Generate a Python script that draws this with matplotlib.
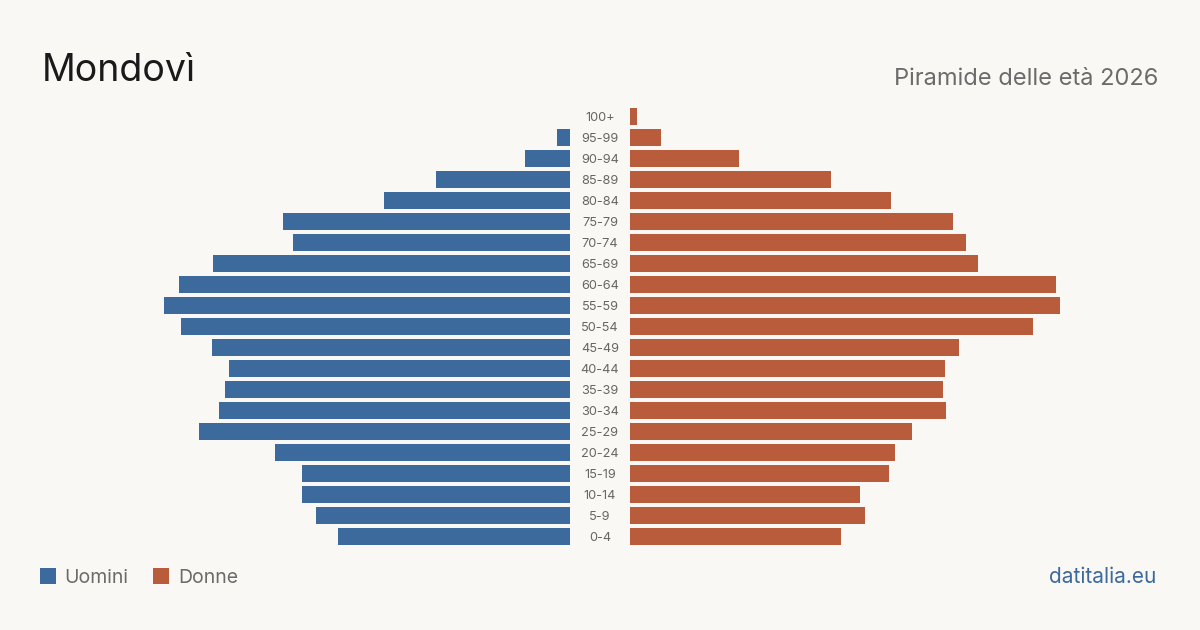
import matplotlib
matplotlib.use("Agg")
import matplotlib.pyplot as plt
from matplotlib.patches import Rectangle

plt.rcParams['font.family'] = ['Inter', 'DejaVu Sans']

age_groups = ["0-4", "5-9", "10-14", "15-19", "20-24", "25-29", "30-34", "35-39",
              "40-44", "45-49", "50-54", "55-59", "60-64", "65-69", "70-74",
              "75-79", "80-84", "85-89", "90-94", "95-99", "100+"]
men = [232, 254, 268, 268, 295, 371, 351, 345, 341, 358, 389, 406, 391, 357,
       277, 287, 186, 134, 45, 13, 0]
women = [211, 235, 230, 259, 265, 282, 316, 313, 315, 329, 403, 430, 426, 348,
         336, 323, 261, 201, 109, 31, 7]

title = "Mondovì"
subtitle = "Piramide delle età 2026"
legend_labels = ["Uomini", "Donne"]
source = "datitalia.eu"

BG = "#f9f8f4"
BLUE = "#3d6a9c"
ORANGE = "#b95c3b"

W, H = 1200, 630
fig = plt.figure(figsize=(W / 100, H / 100), dpi=100, facecolor=BG)

top_px, bot_px = 106, 547
ax_b = (H - bot_px) / H
ax_h = (bot_px - top_px) / H

axL = fig.add_axes([0, ax_b, 570 / W, ax_h])
axR = fig.add_axes([630 / W, ax_b, 570 / W, ax_h])
ypos = list(range(len(age_groups)))
axL.barh(ypos, men, height=0.81, color=BLUE)
axR.barh(ypos, women, height=0.81, color=ORANGE)
for ax in (axL, axR):
    ax.set_xlim(0, 570)
    ax.set_ylim(-0.5, len(age_groups) - 0.5)
    ax.axis("off")
    ax.set_facecolor("none")
axL.invert_xaxis()

# center labels
axC = fig.add_axes([570 / W, ax_b, 60 / W, ax_h])
axC.set_xlim(0, 1)
axC.set_ylim(-0.5, len(age_groups) - 0.5)
axC.axis("off")
for y, lab in zip(ypos, age_groups):
    axC.text(0.5, y, lab, ha="center", va="center_baseline", fontsize=9.2, color="#666666")

fig.text(42 / W, 1 - 81 / H, title, fontsize=27, color="#1a1a1a", ha="left", va="baseline")
fig.text(1158 / W, 1 - 85 / H, subtitle, fontsize=17, color="#6b6b6b", ha="right", va="baseline")

# legend
for x0, col, lab, tx in [(40, BLUE, legend_labels[0], 64), (153, ORANGE, legend_labels[1], 178)]:
    fig.patches.append(Rectangle((x0 / W, 1 - 584 / H), 16 / W, 16 / H,
                                 transform=fig.transFigure, facecolor=col, edgecolor="none"))
    fig.text(tx / W, 1 - 583 / H, lab, fontsize=14, color="#6b6b6b", ha="left", va="baseline")

fig.text(1156 / W, 1 - 583 / H, source, fontsize=15, color=BLUE, ha="right", va="baseline")

fig.savefig("out.png", dpi=100, facecolor=BG)
